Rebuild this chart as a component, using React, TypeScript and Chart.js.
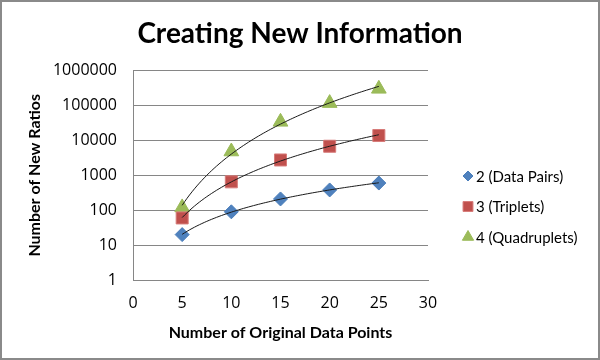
import React, { useEffect, useRef } from "react";
import { Chart, registerables } from "chart.js";
import { drawPoint } from "chart.js/helpers";

Chart.register(...registerables);

const xValues = [5, 10, 15, 20, 25];
const pairs = [20, 90, 210, 380, 600];
const triplets = [60, 650, 2750, 6800, 13800];
const quadruplets = [120, 4800, 34000, 117000, 300000];
const seriesNames = ["2 (Data Pairs)", "3 (Triplets)", "4 (Quadruplets)"];
const yTicks = [1, 10, 100, 1000, 10000, 100000, 1000000];
const FONT = "Lato, 'Open Sans', sans-serif";
const TICK_FONT = "'Open Sans', Lato, sans-serif";

const toPoints = (ys: number[]) => xValues.map((x, i) => ({ x, y: ys[i] }));

const frame = {
  id: "frame",
  beforeDraw(chart: any) {
    const { ctx, width, height } = chart;
    ctx.save();
    ctx.fillStyle = "#ffffff";
    ctx.fillRect(0, 0, width, height);
    ctx.restore();
  },
  afterDraw(chart: any) {
    const { ctx, width, height } = chart;
    ctx.save();
    ctx.strokeStyle = "#8a8a8a";
    ctx.lineWidth = 2;
    ctx.strokeRect(1, 1, width - 2, height - 2);
    ctx.restore();
  },
};

// power trendline (least squares in log-log space) from each dataset
const trendlines = {
  id: "trendlines",
  afterDatasetsDraw(chart: any) {
    const { ctx, scales } = chart;
    const xs = scales.x;
    const ys = scales.y;
    ctx.save();
    ctx.strokeStyle = "#1a1a1a";
    ctx.lineWidth = 1;
    chart.data.datasets.forEach((ds: any) => {
      const pts = ds.data as { x: number; y: number }[];
      const n = pts.length;
      let sx = 0, sy = 0, sxx = 0, sxy = 0;
      pts.forEach((p) => {
        const lx = Math.log(p.x), ly = Math.log(p.y);
        sx += lx; sy += ly; sxx += lx * lx; sxy += lx * ly;
      });
      const b = (n * sxy - sx * sy) / (n * sxx - sx * sx);
      const a = (sy - b * sx) / n;
      const x0 = pts[0].x, x1 = pts[n - 1].x;
      ctx.beginPath();
      const steps = 80;
      for (let i = 0; i <= steps; i++) {
        const x = x0 + ((x1 - x0) * i) / steps;
        const y = Math.exp(a + b * Math.log(x));
        const px = xs.getPixelForValue(x);
        const py = ys.getPixelForValue(y);
        if (i === 0) ctx.moveTo(px, py);
        else ctx.lineTo(px, py);
      }
      ctx.stroke();
    });
    ctx.restore();
  },
};

// legend drawn beside the plot, using each dataset's own marker style
const sideLegend = {
  id: "sideLegend",
  afterDraw(chart: any) {
    const { ctx, chartArea } = chart;
    const markerX = chartArea.right + 40;
    const textX = markerX + 8;
    const startY = 176;
    const rowGap = 30.5;
    const radii: Record<string, number> = { rectRot: 5, rect: 7, triangle: 6.5 };
    ctx.save();
    ctx.font = `15px ${FONT}`;
    ctx.fillStyle = "#000000";
    ctx.textBaseline = "middle";
    ctx.textAlign = "left";
    chart.data.datasets.forEach((ds: any, i: number) => {
      const y = startY + i * rowGap;
      ctx.save();
      ctx.fillStyle = ds.backgroundColor;
      ctx.strokeStyle = ds.borderColor;
      ctx.lineWidth = 1;
      drawPoint(ctx, { pointStyle: ds.pointStyle, radius: radii[ds.pointStyle] ?? 5, borderWidth: 1, rotation: 0 } as any, markerX, y);
      ctx.restore();
      ctx.fillStyle = "#000000";
      ctx.fillText(ds.label, textX, y + 1);
    });
    ctx.restore();
  },
};

export default function App() {
  const ref = useRef<HTMLCanvasElement | null>(null);
  useEffect(() => {
    if (!ref.current) return;
    const chart = new Chart(ref.current, {
      type: "scatter",
      data: {
        datasets: [
          {
            label: seriesNames[0],
            data: toPoints(pairs),
            pointStyle: "rectRot",
            pointRadius: 7,
            backgroundColor: "#4F81BD",
            borderColor: "#4A7EBB",
            borderWidth: 1,
          },
          {
            label: seriesNames[1],
            data: toPoints(triplets),
            pointStyle: "rect",
            pointRadius: 8.5,
            backgroundColor: "#C0504D",
            borderColor: "#D77B79",
            borderWidth: 1,
          },
          {
            label: seriesNames[2],
            data: toPoints(quadruplets),
            pointStyle: "triangle",
            pointRadius: 8.5,
            backgroundColor: "#9BBB59",
            borderColor: "#9BBB59",
            borderWidth: 1,
          },
        ],
      },
      options: {
        animation: false,
        responsive: false,
        layout: { padding: { left: 0, right: 0, top: 0, bottom: 16 } },
        plugins: {
          title: {
            display: true,
            text: "Creating New Information",
            color: "#000000",
            font: { family: FONT, size: 28, weight: "bold" },
            padding: { top: 17, bottom: 20 },
          },
          legend: { display: false },
          tooltip: { enabled: false },
        },
        scales: {
          x: {
            type: "linear",
            min: 0,
            max: 30,
            ticks: {
              stepSize: 5,
              color: "#000000",
              font: { family: TICK_FONT, size: 16 },
              padding: 14,
            },
            grid: { display: false, drawTicks: false },
            border: { display: true, color: "#868686", width: 1 },
            title: {
              display: true,
              text: "Number of Original Data Points",
              color: "#000000",
              font: { family: FONT, size: 16, weight: "bold" },
              padding: { top: 6, bottom: 2 },
            },
            afterFit: (s: any) => {
              s.height = 64;
            },
          },
          y: {
            type: "logarithmic",
            min: 1,
            max: 1000000,
            afterBuildTicks: (s: any) => {
              s.ticks = yTicks.map((v) => ({ value: v }));
            },
            ticks: {
              color: "#000000",
              font: { family: TICK_FONT, size: 16 },
              padding: 16,
              callback: (v: any) => String(v),
            },
            grid: { color: "#868686", drawTicks: false },
            border: { display: true, color: "#868686", width: 1 },
            title: {
              display: true,
              text: "Number of New Ratios",
              color: "#000000",
              font: { family: FONT, size: 16, weight: "bold" },
              padding: { top: 25, bottom: 0 },
            },
            afterFit: (s: any) => {
              s.width = 133;
            },
          },
          // empty right-hand band that holds the legend
          legendSpace: {
            type: "linear",
            position: "right",
            display: true,
            min: 0,
            max: 1,
            grid: { display: false, drawTicks: false },
            border: { display: false },
            ticks: { display: false },
            afterFit: (s: any) => {
              s.width = 172;
            },
          },
        },
      },
      plugins: [frame, trendlines, sideLegend],
    } as any);
    return () => chart.destroy();
  }, []);
  return (
    <div style={{ position: "absolute", left: 0, top: 0, width: 600, height: 360 }}>
      <canvas ref={ref} width={600} height={360} style={{ display: "block", width: 600, height: 360 }} />
    </div>
  );
}
